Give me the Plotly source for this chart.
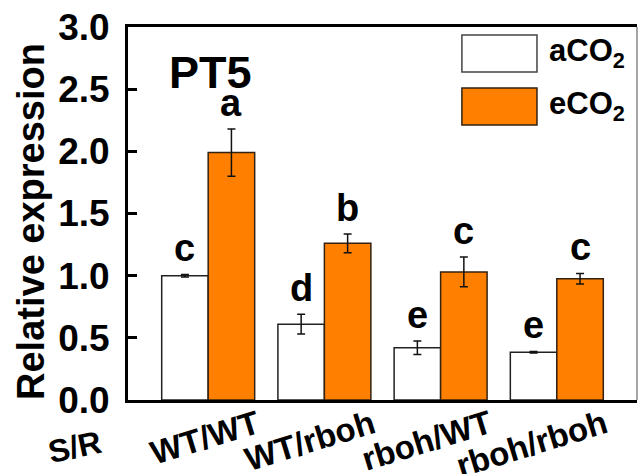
import plotly.graph_objects as go

categories = ["WT/WT", "WT/rboh", "rboh/WT", "rboh/rboh"]
a_vals = [1.00, 0.61, 0.42, 0.385]
a_err = [0.01, 0.08, 0.055, 0.006]
e_vals = [1.99, 1.26, 1.03, 0.975]
e_err = [0.19, 0.075, 0.12, 0.043]
a_letters = ["c", "d", "e", "e"]
e_letters = ["a", "b", "c", "c"]
y_ticks = [0.0, 0.5, 1.0, 1.5, 2.0, 2.5, 3.0]

FONT = "Liberation Sans, Arial, sans-serif"
ORANGE = "#FF8000"

fig = go.Figure()
fig.add_trace(go.Bar(
    x=categories, y=a_vals, name="aCO2", offsetgroup="a",
    marker=dict(color="white", line=dict(color="#222222", width=1.5)),
    error_y=dict(type="data", array=a_err, color="#111111", thickness=1.5, width=4),
    showlegend=False,
))
fig.add_trace(go.Bar(
    x=categories, y=e_vals, name="eCO2", offsetgroup="e",
    marker=dict(color=ORANGE, line=dict(color="#332211", width=1.5)),
    error_y=dict(type="data", array=e_err, color="#111111", thickness=1.5, width=4),
    showlegend=False,
))

def bold(size):
    return dict(family=FONT, size=size, color="black", weight="bold")

annotations = []
# significance letters
for i in range(len(categories)):
    annotations.append(dict(x=i - 0.2, y=a_vals[i] + a_err[i], xref="x", yref="y",
                            text=a_letters[i], showarrow=False, xanchor="center",
                            yanchor="bottom", yshift=3, font=bold(38)))
    annotations.append(dict(x=i + 0.2, y=e_vals[i] + e_err[i], xref="x", yref="y",
                            text=e_letters[i], showarrow=False, xanchor="center",
                            yanchor="bottom", yshift=3, font=bold(38)))
# rotated x labels
for i, c in enumerate(categories):
    annotations.append(dict(x=i, y=0, xref="x", yref="y", text=c, showarrow=False,
                            textangle=-17, xanchor="right", yanchor="top",
                            xshift=58, yshift=-1, font=bold(33)))
# S/R
annotations.append(dict(x=-0.106, y=-0.125, xref="paper", yref="paper", text="S/R",
                        showarrow=False, textangle=-12, xanchor="center", yanchor="middle",
                        font=bold(32)))
# PT5
annotations.append(dict(x=0.163, y=0.879, xref="paper", yref="paper", text="PT5",
                        showarrow=False, xanchor="center", yanchor="middle", font=bold(45)))
# y title
annotations.append(dict(x=-0.192, y=0.478, xref="paper", yref="paper",
                        text="Relative expression", showarrow=False, textangle=-90,
                        xanchor="center", yanchor="middle", font=bold(38)))
# legend text
annotations.append(dict(x=0.823, y=0.929, xref="paper", yref="paper", text="aCO<sub>2</sub>",
                        showarrow=False, xanchor="left", yanchor="middle", font=bold(31)))
annotations.append(dict(x=0.823, y=0.787, xref="paper", yref="paper", text="eCO<sub>2</sub>",
                        showarrow=False, xanchor="left", yanchor="middle", font=bold(31)))

shapes = [
    dict(type="rect", xref="paper", yref="paper", x0=0.656, x1=0.8035, y0=0.8794, y1=0.9786,
         fillcolor="white", line=dict(color="#444444", width=1.5)),
    dict(type="rect", xref="paper", yref="paper", x0=0.656, x1=0.8035, y0=0.7373, y1=0.8365,
         fillcolor=ORANGE, line=dict(color="#332211", width=1.5)),
    dict(type="line", xref="paper", yref="paper", x0=1, x1=1, y0=0, y1=1,
         line=dict(color="#888888", width=1.5)),
]

fig.update_layout(
    width=638, height=474,
    margin=dict(l=128, r=1, t=27, b=74, autoexpand=False),
    paper_bgcolor="white", plot_bgcolor="white",
    barmode="group", bargap=0.2, bargroupgap=0,
    annotations=annotations, shapes=shapes,
    xaxis=dict(range=[-0.69, 3.69], showticklabels=False, ticks="",
               showline=True, linecolor="black", linewidth=3, mirror=True,
               showgrid=False, zeroline=False, automargin=False),
    yaxis=dict(range=[0, 3.0], tickvals=y_ticks, tickformat=".1f",
               ticks="inside", ticklen=9, tickwidth=2.5, tickcolor="black",
               showline=True, linecolor="black", linewidth=3,
               showgrid=False, zeroline=False, ticklabelstandoff=8, automargin=False,
               tickfont=bold(37)),
)

fig.write_html("out.html", config={"displayModeBar": False},
               post_script="document.body.style.margin='0';")
